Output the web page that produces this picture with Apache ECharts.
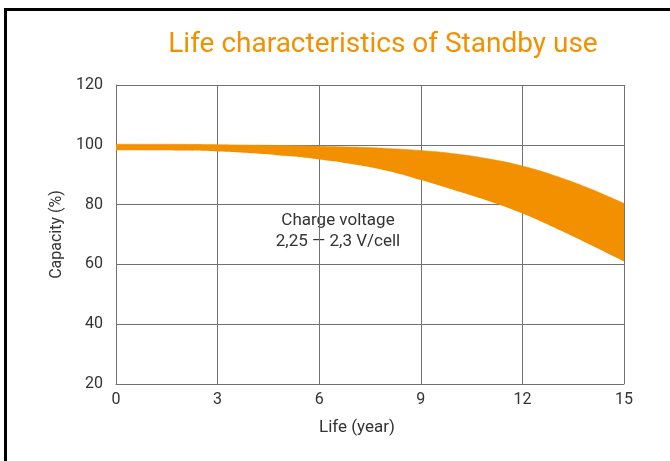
<!DOCTYPE html>
<html>
<head>
<meta charset="utf-8">
<script src="https://cdn.jsdelivr.net/npm/echarts@6/dist/echarts.min.js"></script>
<style>
html,body{margin:0;padding:0;background:#fff;}
#chart{width:670px;height:461px;}
</style>
</head>
<body>
<div id="chart"></div>
<script>
// Data
const years = [0, 1, 2, 3, 4, 5, 6, 7, 8, 9, 10, 11, 12, 13, 14, 15];
const capacityLower = [98.2, 98.2, 98.1, 97.8, 97.2, 96.3, 95.1, 93.5, 91.3, 88.2, 84.8, 81.2, 77.0, 72.0, 66.6, 61.0];
const capacityUpper = [100.2, 100.2, 100.15, 100.05, 99.9, 99.75, 99.55, 99.25, 98.8, 98.1, 97.0, 95.3, 92.9, 89.5, 85.3, 80.4];
const xTickStep = 3;
const yTicks = [20, 40, 60, 80, 100, 120];
const titleText = 'Life characteristics of Standby use';
const noteLines = ['Charge voltage', '2,25 \u2014 2,3 V/cell'];

const FONT = 'Roboto';
const ORANGE = '#F39000';
const GRIDC = '#727272';

const bandWidths = capacityUpper.map((u, i) => +(u - capacityLower[i]).toFixed(2));
const tickEvery = (idx) => years[idx] % xTickStep === 0;

const chart = echarts.init(document.getElementById('chart'));
chart.setOption({
  animation: false,
  backgroundColor: '#fff',
  textStyle: { fontFamily: FONT },
  title: {
    text: titleText,
    left: 378, top: 26,
    textAlign: 'center',
    textStyle: { color: ORANGE, fontSize: 28, fontWeight: 'normal', fontFamily: FONT }
  },
  grid: { left: 116, right: 46, top: 85, bottom: 77, containLabel: false },
  xAxis: {
    type: 'category',
    data: years.map(String),
    boundaryGap: false,
    name: 'Life (year)', nameLocation: 'middle', nameGap: 35,
    nameTextStyle: { color: '#333', fontSize: 17, fontFamily: FONT, padding: [0, 26, 0, 0] },
    axisLine: { lineStyle: { color: GRIDC, width: 1 } },
    axisTick: { show: false },
    axisLabel: { color: '#333', fontSize: 16, margin: 8, fontFamily: FONT, interval: tickEvery },
    splitLine: { show: true, interval: tickEvery, lineStyle: { color: GRIDC, width: 1 } }
  },
  yAxis: {
    type: 'value',
    min: yTicks[0], max: yTicks[yTicks.length - 1], interval: yTicks[1] - yTicks[0],
    name: 'Capacity (%)', nameLocation: 'middle', nameGap: 50, nameRotate: 90,
    nameTextStyle: { color: '#333', fontSize: 16, fontFamily: FONT },
    axisLine: { show: true, lineStyle: { color: GRIDC, width: 1 } },
    axisTick: { show: false },
    axisLabel: { color: '#333', fontSize: 16, margin: 13, fontFamily: FONT },
    splitLine: { show: true, lineStyle: { color: GRIDC, width: 1 } }
  },
  series: [
    {
      type: 'line', stack: 'band', data: capacityLower, smooth: true,
      symbol: 'none', lineStyle: { width: 0, opacity: 0 }, silent: true
    },
    {
      type: 'line', stack: 'band', data: bandWidths, smooth: true,
      symbol: 'none', lineStyle: { width: 0.5, color: ORANGE },
      areaStyle: { color: ORANGE, opacity: 1 }, silent: true
    }
  ],
  graphic: [
    {
      type: 'rect', silent: true, z: 100,
      shape: { x: 5.5, y: 9.5, width: 720, height: 520 },
      style: { fill: 'none', stroke: '#000', lineWidth: 3 }
    },
    {
      type: 'text', x: 338, y: 221, silent: true,
      style: { text: noteLines[0], fill: '#333', font: '17px ' + FONT, align: 'center', verticalAlign: 'middle' }
    },
    {
      type: 'text', x: 338, y: 242, silent: true,
      style: { text: noteLines[1], fill: '#333', font: '17px ' + FONT, align: 'center', verticalAlign: 'middle' }
    }
  ]
});
</script>
</body>
</html>
